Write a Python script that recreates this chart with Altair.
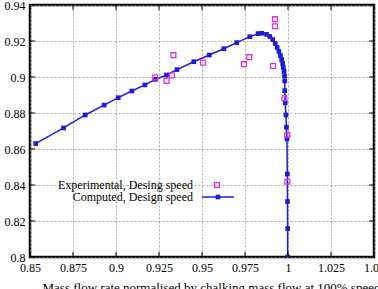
import altair as alt
import pandas as pd

# ---- data ----
comp_x = [0.8533, 0.8695, 0.8821, 0.8931, 0.9013, 0.9092, 0.9168, 0.9230, 0.9294, 0.9355,
          0.9452, 0.9542, 0.9627, 0.9702, 0.9778, 0.9826, 0.9847, 0.9875, 0.9894, 0.9911,
          0.9926, 0.9937, 0.9947, 0.9956, 0.9963, 0.9969, 0.9973, 0.9977, 0.9980, 0.9981,
          0.9981, 0.9984, 0.9988, 0.9991, 0.9994, 0.9996, 0.9997, 0.9998, 0.9998]
comp_y = [0.8630, 0.8717, 0.8789, 0.8844, 0.8885, 0.8922, 0.8956, 0.8987, 0.9011, 0.9041,
          0.9085, 0.9122, 0.9157, 0.9191, 0.9224, 0.9241, 0.9243, 0.9237, 0.9225, 0.9208,
          0.9186, 0.9164, 0.9142, 0.9119, 0.9097, 0.9075, 0.9053, 0.9031, 0.9006, 0.8978,
          0.8924, 0.8857, 0.8789, 0.8721, 0.8656, 0.8461, 0.8308, 0.8158, 0.8000]

exp_x = [0.9228, 0.9294, 0.9325, 0.9334, 0.9506, 0.9744, 0.9775, 0.9913, 0.9924, 0.9924,
         0.9979, 0.9996, 0.9996]
exp_y = [0.8998, 0.8979, 0.9009, 0.9121, 0.9080, 0.9071, 0.9110, 0.9061, 0.9321, 0.9282,
         0.8882, 0.8678, 0.8418]

x_ticks = [0.85, 0.875, 0.9, 0.925, 0.95, 0.975, 1.0, 1.025, 1.05]
y_ticks = [0.80, 0.82, 0.84, 0.86, 0.88, 0.90, 0.92, 0.94]

legend_labels = ["Experimental, Desing speed", "Computed, Design speed"]
x_title = "Mass flow rate normalised by chalking mass flow at 100% speed"

BLUE = "#1c1cdc"
MAGENTA = "#e030e0"
FONT = "Liberation Serif, Times New Roman, DejaVu Serif, serif"
W, H = 344, 252

comp = pd.DataFrame({"x": comp_x, "y": comp_y, "i": range(len(comp_x))})
exp = pd.DataFrame({"x": exp_x, "y": exp_y})
xt = pd.DataFrame({"x": x_ticks})
yt = pd.DataFrame({"y": y_ticks})

xs = alt.Scale(domain=[0.85, 1.05], nice=False, zero=False)
ys = alt.Scale(domain=[0.80, 0.94], nice=False, zero=False)

x_axis = alt.Axis(values=x_ticks, format=".3~f", title=x_title, titleFont=FONT,
                  titleFontSize=13, titleFontWeight="normal", titleX=181, titleY=24,
                  titleBaseline="top", titleAlign="center",
                  labelFlush=False, labelOverlap=False, labelBound=False)
y_axis = alt.Axis(values=y_ticks, format=".2~f", title=None,
                  labelFlush=False, labelOverlap=False, labelBound=False)


def X():
    return alt.X("x:Q", scale=xs, axis=x_axis)


def Y():
    return alt.Y("y:Q", scale=ys, axis=y_axis)


line = alt.Chart(comp).mark_line(color=BLUE, strokeWidth=1.5, clip=True).encode(
    x=X(), y=Y(), order="i:Q",
)
pts = alt.Chart(comp).mark_square(color=BLUE, size=22, opacity=1, clip=True).encode(
    x=X(), y=Y()
)
expm = alt.Chart(exp).mark_square(filled=False, color=MAGENTA, strokeWidth=1.3, size=24,
                                  opacity=1).encode(x=X(), y=Y())

# inward ticks on all four sides
tb = alt.Chart(xt).mark_rule(color="black", strokeWidth=1).encode(
    x=X(), y=alt.value(H), y2=alt.value(H - 5))
tt = alt.Chart(xt).mark_rule(color="black", strokeWidth=1).encode(
    x=X(), y=alt.value(0), y2=alt.value(5))
tl = alt.Chart(yt).mark_rule(color="black", strokeWidth=1).encode(
    y=Y(), x=alt.value(0), x2=alt.value(5))
tr = alt.Chart(yt).mark_rule(color="black", strokeWidth=1).encode(
    y=Y(), x=alt.value(W), x2=alt.value(W - 5))

# legend (gnuplot style: text right-aligned, then sample)
one = pd.DataFrame({"k": [0]})
lt1 = alt.Chart(one).mark_text(align="right", baseline="middle", font=FONT, fontSize=12,
                               color="black").encode(
    x=alt.value(163), y=alt.value(180), text=alt.value(legend_labels[0]))
lt2 = alt.Chart(one).mark_text(align="right", baseline="middle", font=FONT, fontSize=12,
                               color="black").encode(
    x=alt.value(163), y=alt.value(192), text=alt.value(legend_labels[1]))
ls1 = alt.Chart(one).mark_square(filled=False, color=MAGENTA, strokeWidth=1.3, size=24,
                                 opacity=1).encode(x=alt.value(187), y=alt.value(180))
ll2 = alt.Chart(one).mark_rule(color=BLUE, strokeWidth=1.5).encode(
    x=alt.value(172), x2=alt.value(204), y=alt.value(192))
ls2 = alt.Chart(one).mark_square(color=BLUE, size=22, opacity=1).encode(
    x=alt.value(188), y=alt.value(192))

chart = alt.layer(line, pts, expm, tb, tt, tl, tr, lt1, lt2, ls1, ll2, ls2).properties(
    width=W, height=H,
    padding={"left": 30, "top": 5, "right": 4, "bottom": 32},
    autosize=alt.AutoSizeParams(type="none"),
    background="white",
).configure_view(
    stroke="black", strokeWidth=2.5
).configure_axis(
    grid=True, gridColor="#909090", gridDash=[2, 2], gridWidth=0.8,
    ticks=False, domain=False,
    labelFont=FONT, labelFontSize=12, labelColor="black",
    labelPadding=5, labelOverlap=False,
)

chart.save("out.html", embed_options={"renderer": "svg", "actions": False})
